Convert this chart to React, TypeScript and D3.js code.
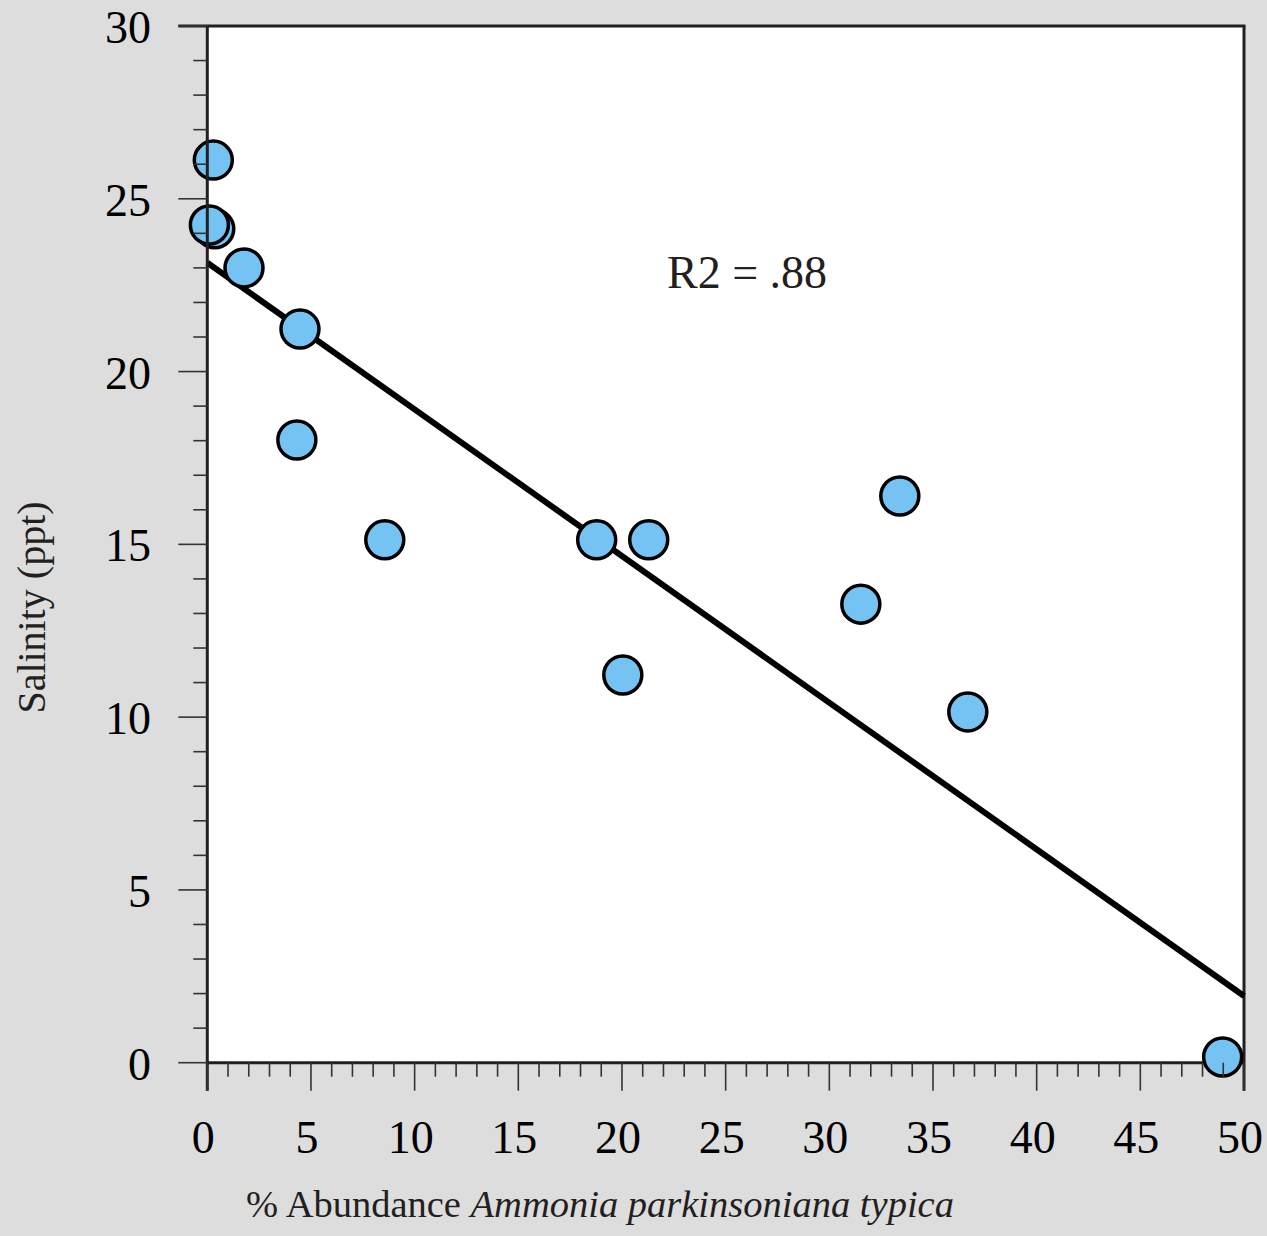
import React from 'react';
import * as d3 from 'd3';

// % abundance (x) vs salinity (y)
const abundance = [0.29, 0.36, 0.1, 1.77, 4.47, 4.32, 8.56, 18.78, 21.29, 20.04, 31.52, 33.4, 36.68, 48.97];
const salinity = [26.12, 24.13, 24.24, 23.0, 21.23, 18.02, 15.13, 15.13, 15.13, 11.22, 13.27, 16.4, 10.15, 0.165];

// fitted regression line (endpoints at x = 0 and x = 50)
const fitX = [0, 50];
const fitY = [23.15, 1.93];

const xTicks = [0, 5, 10, 15, 20, 25, 30, 35, 40, 45, 50];
const yTicks = [0, 5, 10, 15, 20, 25, 30];
const rSquaredLabel = 'R2 = .88';

const W = 1267;
const H = 1236;
const margin = { left: 207.3, right: 1244, top: 26, bottom: 1062.7 };
const FONT = '"Liberation Serif", "Times New Roman", serif';
const INK = '#231f20';

const App = () => {
  const x = d3.scaleLinear().domain([0, 50]).range([margin.left, margin.right]);
  const y = d3.scaleLinear().domain([0, 30]).range([margin.bottom, margin.top]);

  const minorX = d3.range(0, 51).filter(v => v % 5 !== 0);
  const minorY = d3.range(0, 31).filter(v => v % 5 !== 0);

  const points = abundance.map((a, i) => ({ a, s: salinity[i] }));
  const fitLine = d3.line<number>()
    .x((d, i) => x(fitX[i]))
    .y(d => y(d))(fitY);

  return (
    <>
      <style>{`body{margin:0}`}</style>
      <svg width={W} height={H} style={{ position: 'absolute', left: 0, top: 0, display: 'block' }}>
        <rect x={0} y={0} width={W} height={H} fill="#dddddd" />
        <rect
          x={margin.left}
          y={margin.top}
          width={margin.right - margin.left}
          height={margin.bottom - margin.top}
          fill="#ffffff"
        />

        {/* frame: top, right, bottom */}
        <g stroke={INK} strokeWidth={3} fill="none">
          <line x1={margin.left - 29} x2={margin.right + 1.5} y1={margin.top} y2={margin.top} />
          <line x1={margin.right} x2={margin.right} y1={margin.top} y2={margin.bottom + 28} />
          <line x1={margin.left} x2={margin.right} y1={margin.bottom} y2={margin.bottom} />
        </g>

        {/* regression line */}
        <path d={fitLine || ''} stroke="#000" strokeWidth={6} fill="none" />

        {/* data points */}
        <g>
          {points.map((p, i) => (
            <circle
              key={i}
              cx={x(p.a)}
              cy={y(p.s)}
              r={19}
              fill="#74c3f2"
              stroke="#000"
              strokeWidth={3.5}
            />
          ))}
        </g>

        {/* left axis line + ticks */}
        <line x1={margin.left} x2={margin.left} y1={margin.top} y2={margin.bottom + 28} stroke={INK} strokeWidth={3} />
        <g stroke="#333" strokeWidth={1.6}>
          {yTicks.map(t => (
            <line key={'ym' + t} x1={margin.left - 29} x2={margin.left} y1={y(t)} y2={y(t)} />
          ))}
          {minorY.map(t => (
            <line key={'yn' + t} x1={margin.left - 14} x2={margin.left} y1={y(t)} y2={y(t)} />
          ))}
          {xTicks.map(t => (
            <line key={'xm' + t} x1={x(t)} x2={x(t)} y1={margin.bottom} y2={margin.bottom + 28} />
          ))}
          {minorX.map(t => (
            <line key={'xn' + t} x1={x(t)} x2={x(t)} y1={margin.bottom} y2={margin.bottom + 14} />
          ))}
        </g>

        {/* tick labels */}
        <g fontFamily={FONT} fontSize={46} fill="#000">
          {yTicks.map(t => (
            <text key={'yl' + t} x={151} y={y(t) + 17} textAnchor="end">{t}</text>
          ))}
          {xTicks.map(t => (
            <text key={'xl' + t} x={x(t) - 4} y={1153} textAnchor="middle">{t}</text>
          ))}
        </g>

        {/* axis titles */}
        <text
          transform="translate(45,607.5) rotate(-90)"
          textAnchor="middle"
          fontFamily={FONT}
          fontSize={40}
          fill="#231f20"
        >
          Salinity (ppt)
        </text>
        <text x={600} y={1217} textAnchor="middle" fontFamily={FONT} fontSize={38.5} fill="#231f20">
          <tspan>% Abundance </tspan>
          <tspan fontStyle="italic">Ammonia parkinsoniana typica</tspan>
        </text>

        <text x={667} y={288} fontFamily={FONT} fontSize={46} fill="#231f20">{rSquaredLabel}</text>
      </svg>
    </>
  );
};

export default App;
